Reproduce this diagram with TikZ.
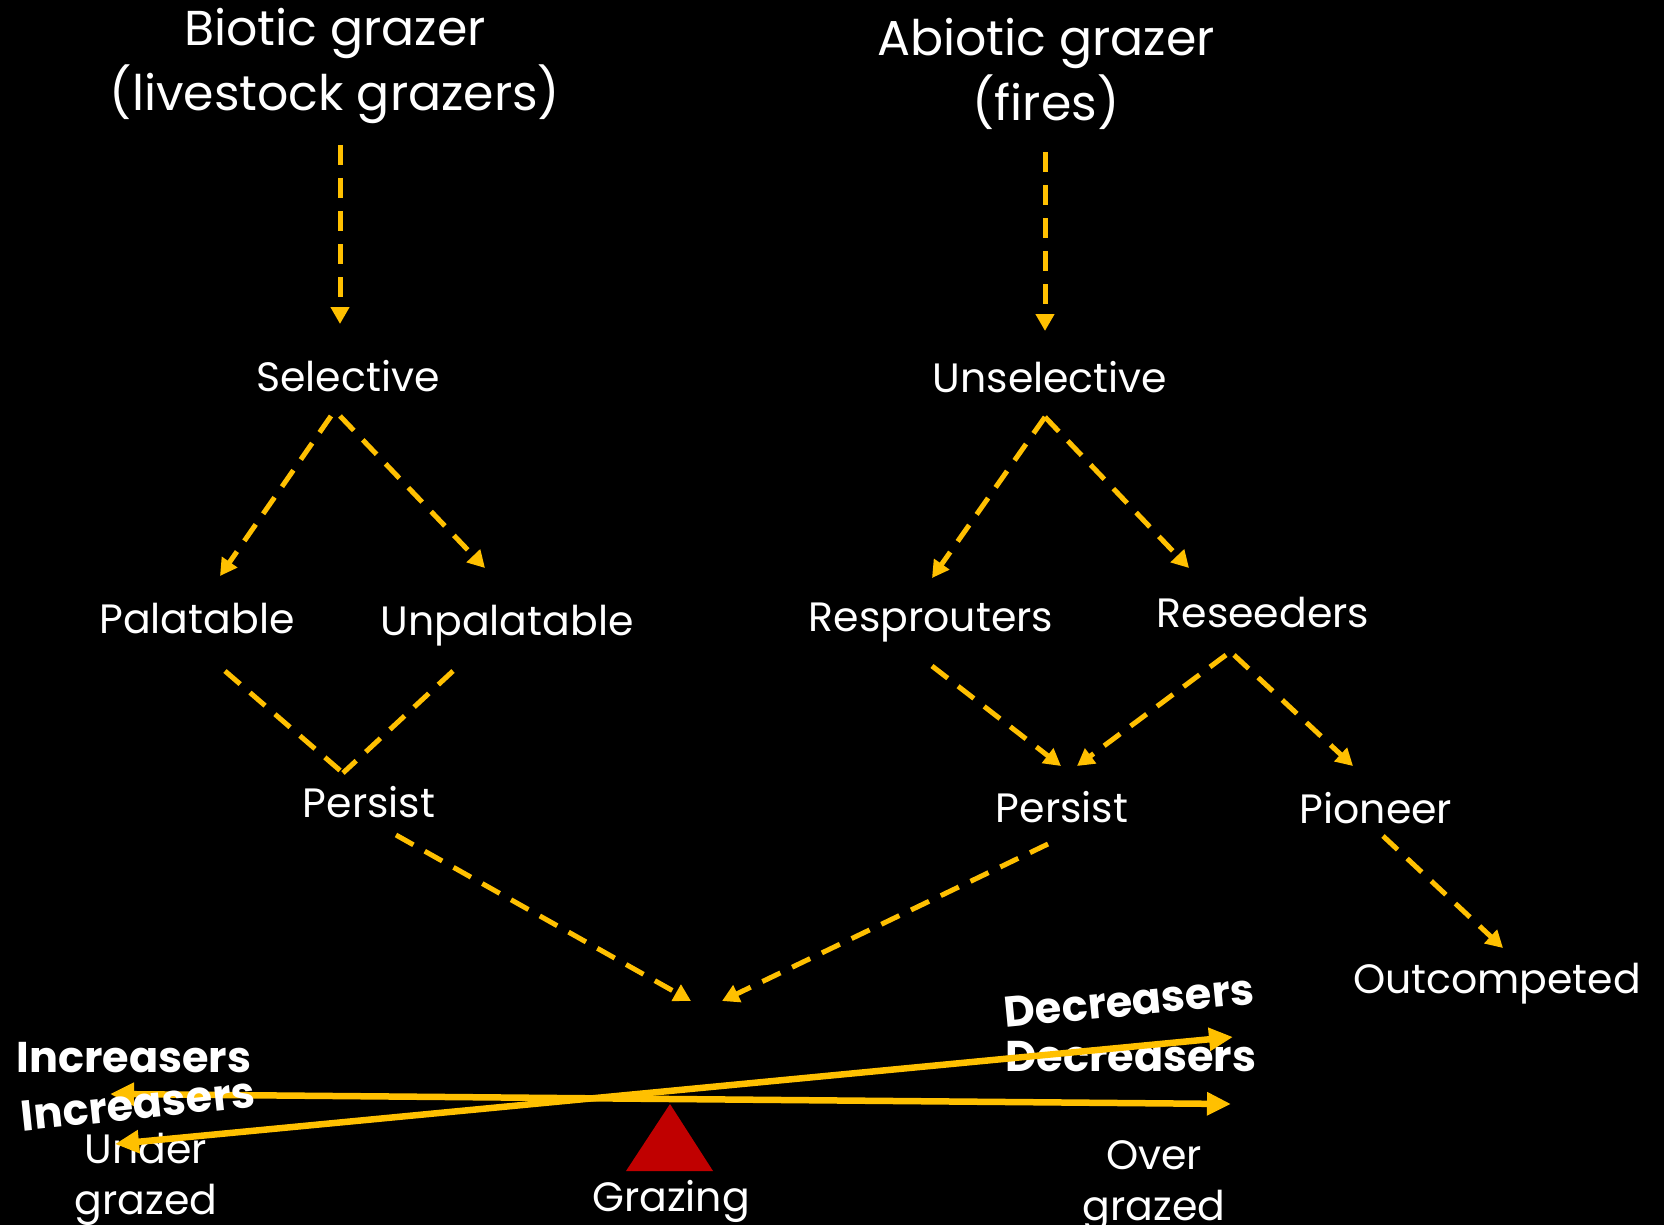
\documentclass[tikz,border=0pt]{standalone}
\usepackage{fontspec}
\setmainfont{Poppins}
\usetikzlibrary{arrows.meta,calc}
\definecolor{gold}{HTML}{FFC000}
\definecolor{tri}{HTML}{C00000}
\tikzset{
  lbl/.style={text=white,font=\fontsize{41}{51}\selectfont,align=center,inner sep=0pt},
  ttl/.style={text=white,font=\fontsize{49}{65}\selectfont,align=center,inner sep=0pt},
  bld/.style={text=white,font=\fontsize{43}{48}\selectfont\bfseries,inner sep=0pt},
  dsh/.style={draw=gold,line width=5pt,dash pattern=on 20pt off 13pt,-{Triangle[length=17pt,width=18pt]}},
  dshn/.style={draw=gold,line width=5pt,dash pattern=on 20pt off 13pt},
  sol/.style={draw=gold,line width=6.5pt,{Triangle[length=24pt,width=22pt]}-{Triangle[length=24pt,width=22pt]}}
}
\begin{document}
\begin{tikzpicture}[x=1pt,y=-1pt]
\fill[black] (0,0) rectangle (1664,1225);
\useasboundingbox (0,0) rectangle (1664,1225);
% nodes
\node[ttl] (bio) at (335,66) {Biotic grazer\\(livestock grazers)};
\node[ttl] (abio) at (1046,74) {Abiotic grazer\\(fires)};
\node[lbl] (sel) at (348,376) {Selective};
\node[lbl] (unsel) at (1050,377) {Unselective};
\node[lbl] (pal) at (197,619) {Palatable};
\node[lbl] (unpal) at (507,626) {Unpalatable};
\node[lbl] (resp) at (931,623) {Resprouters};
\node[lbl] (rese) at (1263,613) {Reseeders};
\node[lbl] (perL) at (369,802) {Persist};
\node[lbl] (perR) at (1062,807) {Persist};
\node[lbl] (pio) at (1376,808) {Pioneer};
\node[lbl] (out) at (1497,984) {Outcompeted};
\node[lbl] (graz) at (671,1201) {Grazing};
\node[lbl] (under) at (146,1179) {Under\\grazed};
\node[lbl] (over) at (1154,1186) {Over\\grazed};
\coordinate (meet) at (706,1005);
% triangle fulcrum
\fill[tri] (670,1104) -- (713,1171) -- (626,1171) -- cycle;
% dashed connectors
\draw[dsh] ([shift={(5,79)}]bio.center) -- ([shift={(-8,-52)}]sel.center);
\draw[dsh] ([shift={(-1,78)}]abio.center) -- ([shift={(-5,-46)}]unsel.center);
\draw[dsh] ([shift={(-17,40)}]sel.center) -- ([shift={(23,-43)}]pal.center);
\draw[dsh] ([shift={(-8,40)}]sel.center) -- ([shift={(-22,-58)}]unpal.center);
\draw[dshn] ([shift={(28,52)}]pal.center) -- ([shift={(-26,-29)}]perL.center);
\draw[dshn] ([shift={(-54,45)}]unpal.center) -- ([shift={(-26,-29)}]perL.center);
\draw[dsh] ([shift={(-5,40)}]unsel.center) -- ([shift={(1,-45)}]resp.center);
\draw[dsh] ([shift={(-5,40)}]unsel.center) -- ([shift={(-74,-45)}]rese.center);
\draw[dsh] ([shift={(1,43)}]resp.center) -- ([shift={(-1,-41)}]perR.center);
\draw[dsh] ([shift={(-37,42)}]rese.center) -- ([shift={(15,-41)}]perR.center);
\draw[dsh] ([shift={(-29,42)}]rese.center) -- ([shift={(-23,-42)}]pio.center);
\draw[dsh] ([shift={(7,28)}]pio.center) -- ([shift={(6,-36)}]out.center);
\draw[dsh] ([shift={(27,33)}]perL.center) -- ([shift={(-15,-4)}]meet);
\draw[dsh] ([shift={(-14,37)}]perR.center) -- ([shift={(16,-4)}]meet);
% seesaw arrows
\node[bld] (inc1) at (134,1058) {Increasers};
\node[bld] (dec2) at (1131,1057) {Decreasers};
\draw[sol] ([shift={(-24,36)}]inc1.center) -- ([shift={(100,47)}]dec2.center);
\node[bld,rotate=5.5] (dec1) at (1129,1001) {Decreasers};
\draw[sol] ([shift={(-31,-35)}]under.center) -- ([shift={(104,36)}]dec1.center);
\node[bld,rotate=6] (inc2) at (138,1104) {Increasers};
\end{tikzpicture}
\end{document}
